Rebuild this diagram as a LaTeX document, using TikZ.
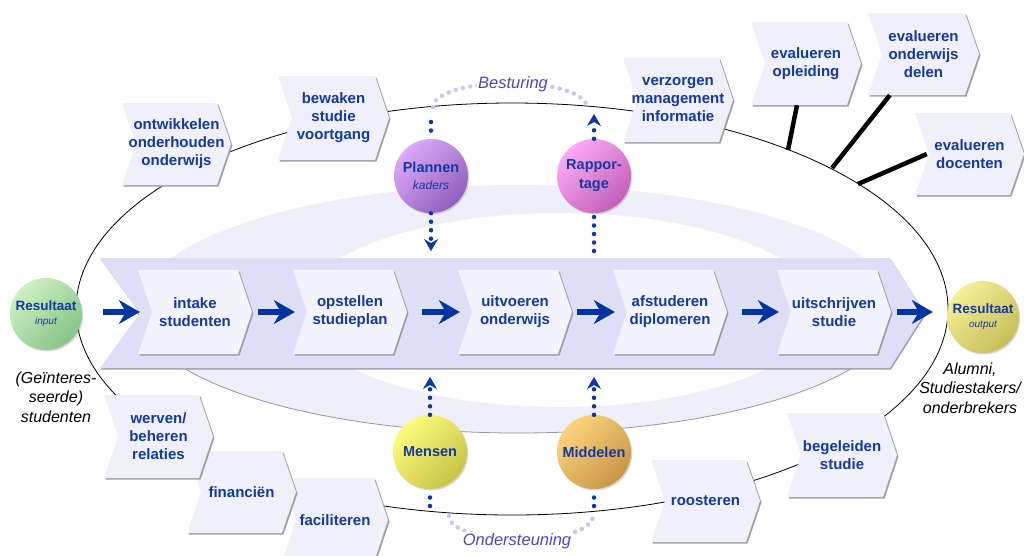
\documentclass[tikz,border=0pt]{standalone}
\usepackage{fontspec}
\setmainfont{Liberation Sans}
\usetikzlibrary{arrows.meta,shadows}

\definecolor{txtblue}{RGB}{18,58,160}
\definecolor{arrblue}{RGB}{0,52,160}
\definecolor{dotblue}{RGB}{10,55,165}
\definecolor{arcdot}{RGB}{200,200,240}
\definecolor{arctext}{RGB}{72,72,200}
\definecolor{ringfill}{RGB}{239,239,251}
\definecolor{bandfill}{RGB}{222,222,247}
\definecolor{procfill}{RGB}{243,243,253}
\definecolor{sidefill}{RGB}{240,240,252}
\definecolor{shadowgray}{RGB}{160,160,172}
\definecolor{ringedge}{RGB}{150,150,165}
% ball colours (light / dark)
\definecolor{greenA}{RGB}{205,242,195}
\definecolor{greenB}{RGB}{135,195,135}
\definecolor{oliveA}{RGB}{244,240,150}
\definecolor{oliveB}{RGB}{200,190,90}
\definecolor{purpA}{RGB}{220,170,248}
\definecolor{purpB}{RGB}{145,95,190}
\definecolor{pinkA}{RGB}{252,170,246}
\definecolor{pinkB}{RGB}{195,95,185}
\definecolor{yellA}{RGB}{252,252,125}
\definecolor{yellB}{RGB}{200,195,70}
\definecolor{orngA}{RGB}{252,212,125}
\definecolor{orngB}{RGB}{200,150,70}

% chevron box: name, fill, left x, top y, width (to tip base), height, text
\newcommand{\chevnode}[7]{%
  \fill[shadowgray] ({#3+1.5},{#4+1.5}) -- ({#3+#5+1.5},{#4+1.5}) -- ({#3+#5+15.5},{#4+#6/2+1.5})
     -- ({#3+#5+1.5},{#4+#6+1.5}) -- ({#3+1.5},{#4+#6+1.5}) -- ({#3+15.5},{#4+#6/2+1.5}) -- cycle;
  \fill[#2] (#3,#4) -- ({#3+#5},#4) -- ({#3+#5+14},{#4+#6/2}) -- ({#3+#5},{#4+#6})
     -- (#3,{#4+#6}) -- ({#3+14},{#4+#6/2}) -- cycle;
  \node[chevtext, minimum width={#5+14}, minimum height={#6}] (#1) at ({#3+(#5+14)/2},{#4+#6/2}) {#7};%
}

\begin{document}
\begin{tikzpicture}[x=1pt,y=-1pt,
  chevtext/.style={text=txtblue, font=\fontsize{15}{18}\selectfont\bfseries, align=center, inner sep=0pt},
  ball/.style 2 args={circle, inner sep=0pt, minimum size=74pt, top color=#1, bottom color=#2,
     shading angle=45, text=txtblue, font=\fontsize{14.5}{17}\selectfont\bfseries, align=center,
     drop shadow={shadow xshift=1.2pt, shadow yshift=-1.5pt, opacity=0.3}},
  bigarrow/.style={draw=arrblue, line width=6pt,
     -{Stealth[length=21pt, width=24pt, inset=7pt, line width=0.5pt]}},
  dotline/.style={draw=dotblue, line width=4.5pt, line cap=round, dash pattern=on 0pt off 8.5pt},
  dottip/.style={-{Stealth[length=12pt, width=14pt, inset=4pt, line width=0.5pt]}},
  arcdots/.style={draw=arcdot, line width=4.5pt, line cap=round, dash pattern=on 0pt off 7.5pt},
  arclabel/.style={text=arctext, font=\fontsize{16.5}{19}\selectfont\itshape, fill=white, inner sep=1.5pt},
  stalk/.style={draw=black, line width=4.5pt},
  sidelabel/.style={font=\fontsize{16}{19.5}\selectfont\itshape, align=center, inner sep=0pt}]

\useasboundingbox (0,0) rectangle (1024,555);

% light ring behind the process band
\fill[ringfill, even odd rule] (518,309) ellipse[x radius=380pt, y radius=124pt]
                               (560,310) ellipse[x radius=260pt, y radius=97pt];
\draw[ringedge, line width=0.8pt] (138,309) arc[start angle=180, end angle=360, x radius=380pt, y radius=124pt];

% outer cycle
\draw[line width=0.8pt] (512,309) ellipse[x radius=436pt, y radius=206pt];

% process band
\fill[shadowgray] (101,259.5) -- (891,259.5) -- (926,314.5) -- (891,369.5) -- (101,369.5) -- (141,314.5) -- cycle;
\fill[bandfill] (100,258) -- (890,258) -- (925,313) -- (890,368) -- (100,368) -- (140,313) -- cycle;

% process steps
\chevnode{intake}{procfill}{138}{270}{100}{84}{intake\\studenten}
\chevnode{opst}{procfill}{293}{270}{100}{84}{opstellen\\studieplan}
\chevnode{uitv}{procfill}{458}{270}{100}{84}{uitvoeren\\onderwijs}
\chevnode{afst}{procfill}{613}{270}{100}{84}{afstuderen\\diplomeren}
\chevnode{uits}{procfill}{777}{270}{100}{84}{uitschrijven\\studie}

% input / output
\node[ball={greenA}{greenB}, minimum size=72pt, font=\fontsize{13.5}{16}\selectfont\bfseries] (resIn) at (46,314)
  {Resultaat\\[-2pt]{\fontsize{10}{12}\selectfont\mdseries\itshape input}};
\node[ball={oliveA}{oliveB}, minimum size=72pt, font=\fontsize{13.5}{16}\selectfont\bfseries] (resOut) at (983,317)
  {Resultaat\\[-2pt]{\fontsize{10}{12}\selectfont\mdseries\itshape output}};

% flow arrows
\draw[bigarrow, shorten <=21pt] (resIn.east |- intake.west) -- ([xshift=2pt]intake.west);
\draw[bigarrow, shorten <=6pt] (intake.east) -- ([xshift=2pt]opst.west);
\draw[bigarrow, shorten <=15pt] (opst.east) -- ([xshift=2pt]uitv.west);
\draw[bigarrow, shorten <=5pt] (uitv.east) -- ([xshift=2pt]afst.west);
\draw[bigarrow, shorten <=15pt] (afst.east) -- ([xshift=2pt]uits.west);
\draw[bigarrow, shorten <=6pt] (uits.east) -- ([xshift=-14pt]uits.east -| resOut.west);

% steering and support balls
\node[ball={purpA}{purpB}] (plan) at (431,176) {Plannen\\{\fontsize{12}{14}\selectfont\mdseries\itshape kaders}};
\node[ball={pinkA}{pinkB}, font=\fontsize{14.5}{19}\selectfont\bfseries] (rapp) at (594,176) {Rappor-\\tage};
\node[ball={yellA}{yellB}] (mens) at (430,452) {Mensen};
\node[ball={orngA}{orngB}] (midd) at (594,452) {Middelen};

% dotted influence lines
\coordinate (planTop) at (431,122);
\coordinate (planEnd) at (431,251);
\draw[dotline] (planTop) -- (plan);
\draw[dotline, dottip] (plan) -- (planEnd);

\coordinate (rappTop) at (594,114);
\coordinate (rappEnd) at (594,251);
\draw[dotline] (rappEnd) -- (rapp);
\draw[dotline, dottip] (rapp) -- (rappTop);

\coordinate (mensTop) at (430,377);
\coordinate (mensEnd) at (430,506);
\draw[dotline] (mensEnd) -- (mens);
\draw[dotline, dottip] (mens) -- (mensTop);

\coordinate (middTop) at (594,377);
\coordinate (middEnd) at (594,506);
\draw[dotline] (middEnd) -- (midd);
\draw[dotline, dottip] (midd) -- (middTop);

% support processes (lower left, back to front)
\chevnode{faci}{sidefill}{282}{478}{92}{84}{faciliteren}
\chevnode{fina}{sidefill}{187}{451}{95}{82}{financiën}
\chevnode{werv}{sidefill}{104}{395}{95}{83}{werven/\\beheren\\relaties}
% processes on the cycle
\chevnode{ontw}{sidefill}{122}{103}{95}{82}{ontwikkelen\\onderhouden\\onderwijs}
\chevnode{bewa}{sidefill}{278}{76}{97}{84}{bewaken\\studie\\voortgang}
\chevnode{verz}{sidefill}{623}{58}{96}{84}{verzorgen\\management\\informatie}
\chevnode{roos}{sidefill}{651}{460}{95}{82}{roosteren}
\chevnode{bege}{sidefill}{787}{413}{96}{84}{begeleiden\\studie}
% evaluation branches
\chevnode{evop}{sidefill}{751}{22}{96}{83}{evalueren\\opleiding}
\chevnode{evod}{sidefill}{868}{13}{97}{82}{evalueren\\onderwijs\\delen}
\chevnode{evdo}{sidefill}{915}{113}{95}{82}{evalueren\\docenten}

\coordinate (k1) at (788,150);
\coordinate (k2) at (832,168);
\coordinate (k3) at (858,184);
\draw[stalk] (k1) -- ([xshift=-9pt]evop.south);
\draw[stalk] (k2) -- ([xshift=22pt]evod.south west);
\draw[stalk] (k3) -- ([xshift=12pt]evdo.west);

% steering / support arcs
\draw[arcdots] (433,107) arc[start angle=180, end angle=0, x radius=77pt, y radius=24pt];
\node[arclabel] (besturing) at (513,84) {Besturing};
\draw[arcdots] (449,516) arc[start angle=180, end angle=360, x radius=72pt, y radius=24pt];
\node[arclabel] (ondersteuning) at (517,541) {Ondersteuning};

% inflow / outflow captions
\node[sidelabel] (instroom) at (56,397) {(Geïnteres-\\seerde)\\studenten};
\node[sidelabel] (uitstroom) at (970,388) {Alumni,\\Studiestakers/\\onderbrekers};

\end{tikzpicture}
\end{document}
